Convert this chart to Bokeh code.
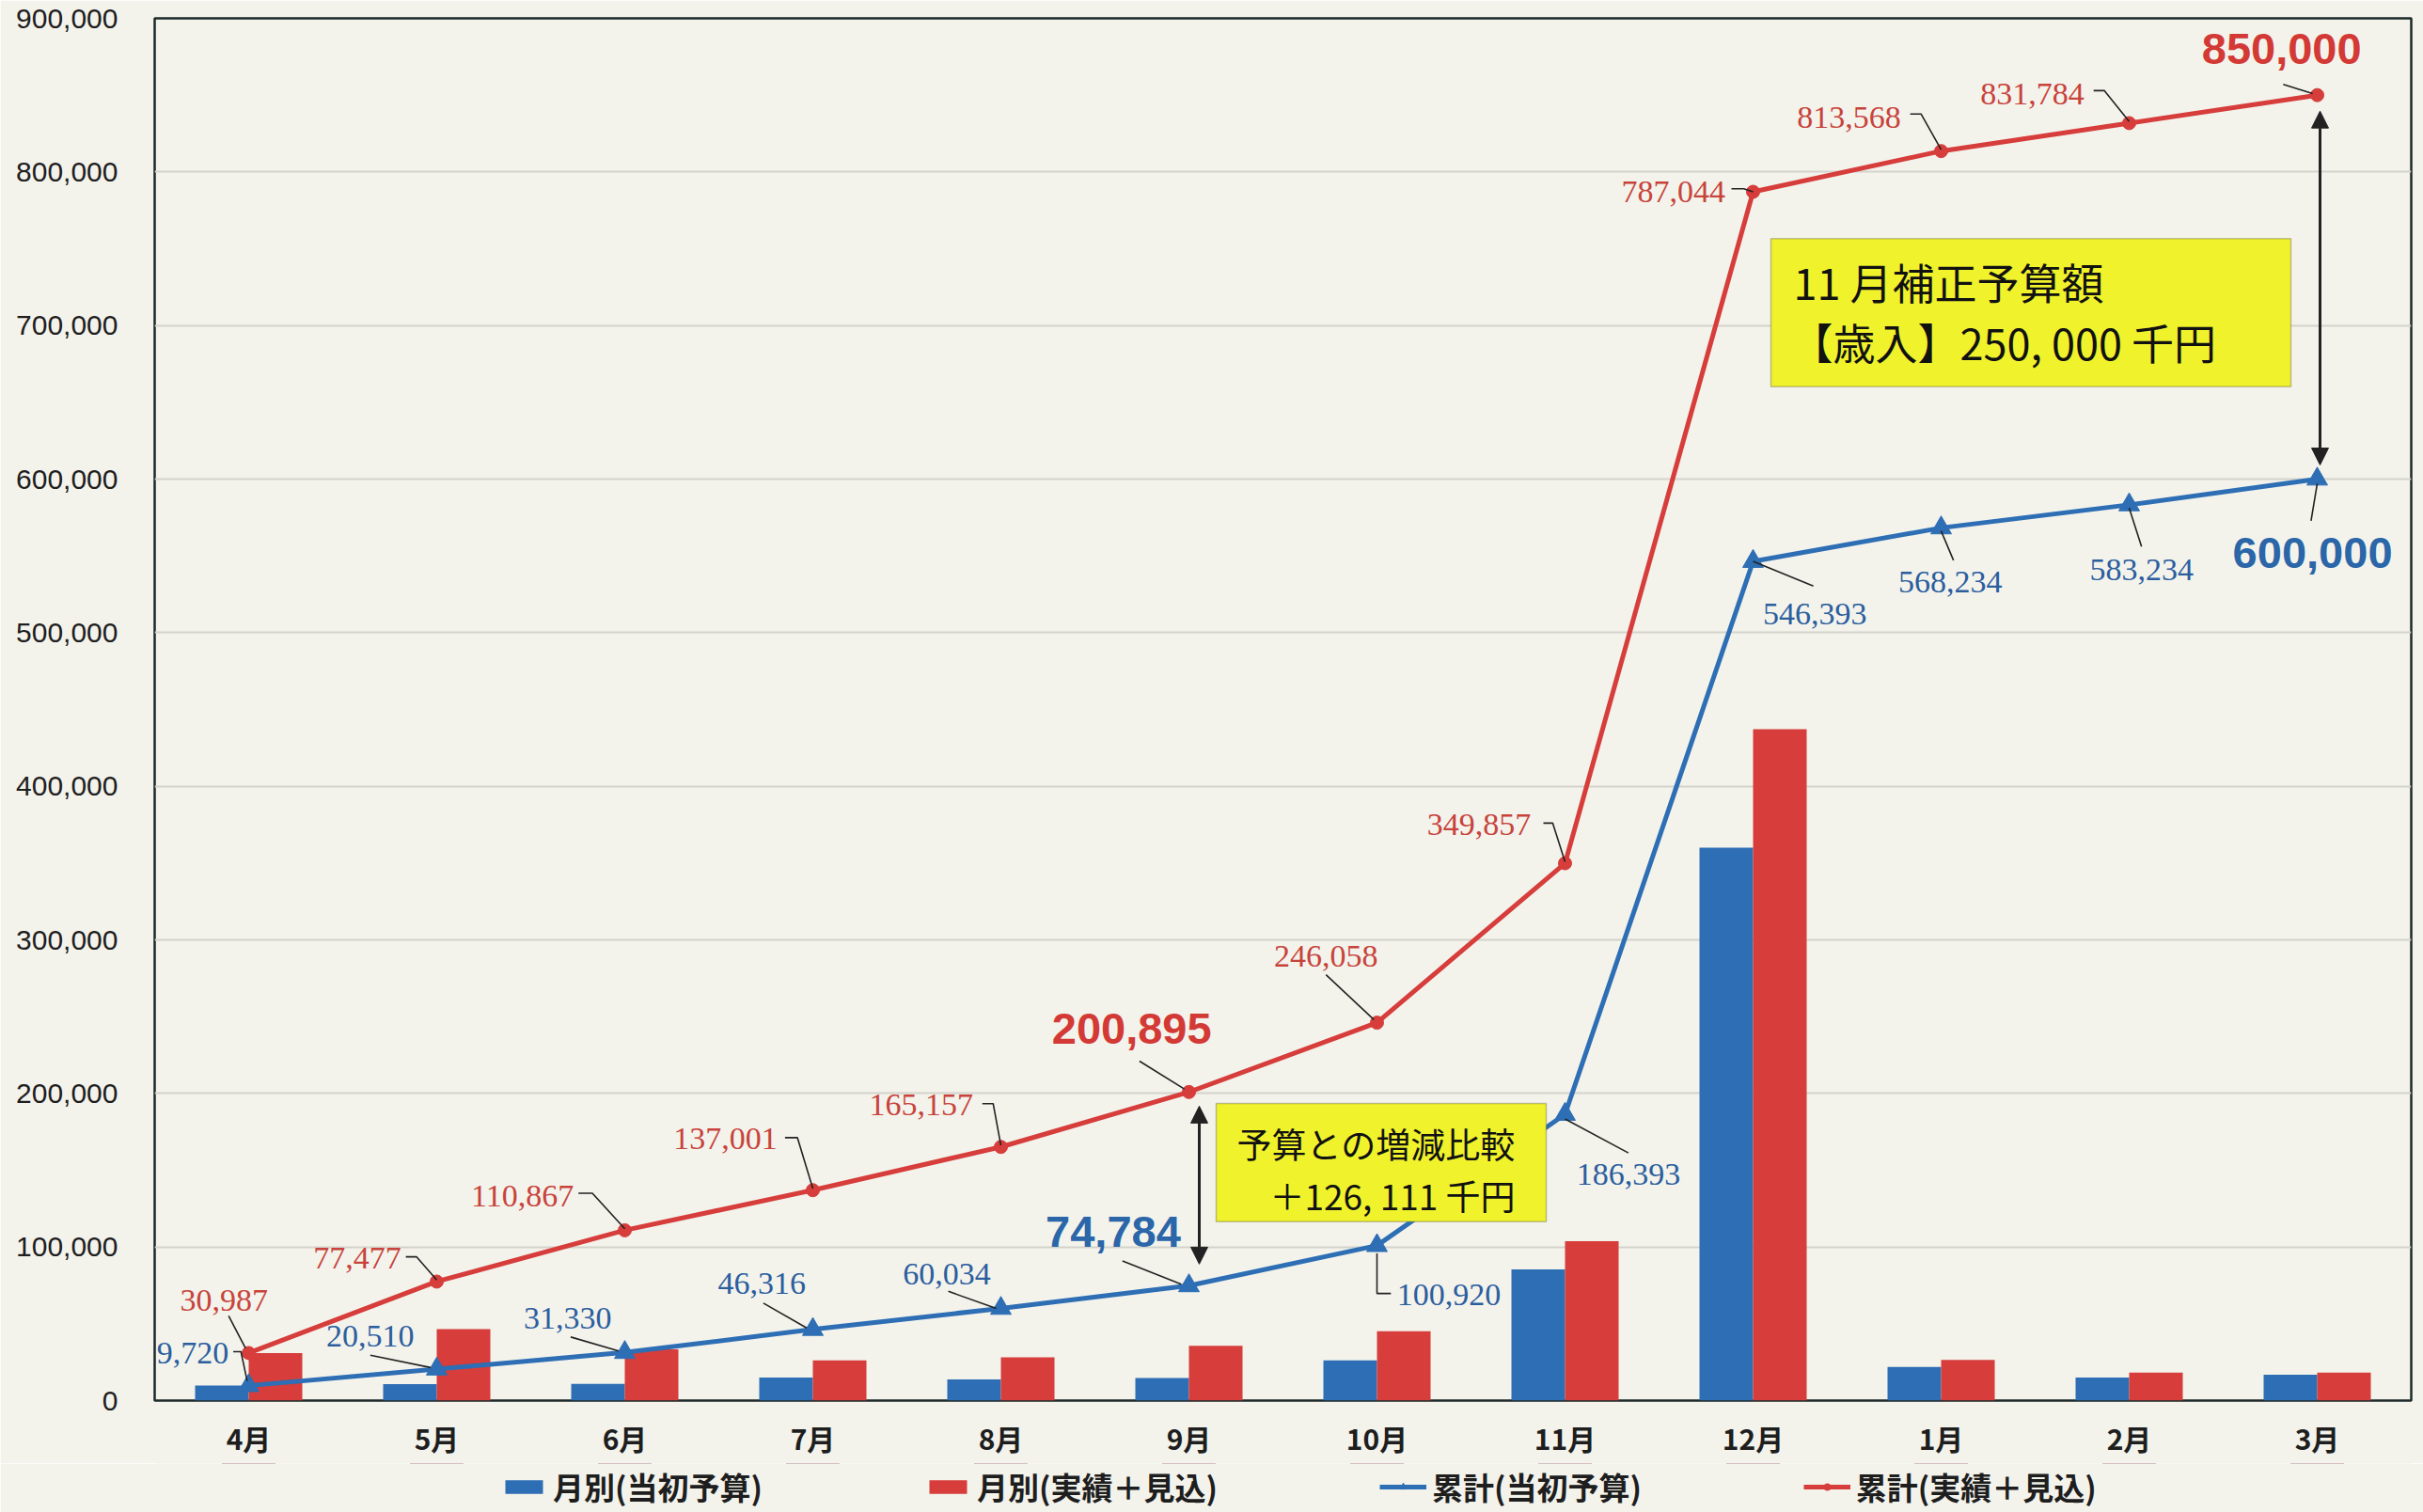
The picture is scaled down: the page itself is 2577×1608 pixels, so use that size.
from bokeh.plotting import figure
from bokeh.layouts import column
from bokeh.models import (Range1d, FixedTicker, NumeralTickFormatter, Legend, LegendItem,
                          Label, BoxAnnotation, Arrow, NormalHead)
from bokeh.embed import file_html
from bokeh.resources import INLINE

# ---------------- data ----------------
months = ["4月", "5月", "6月", "7月", "8月", "9月", "10月", "11月", "12月", "1月", "2月", "3月"]
monthly_budget = [9720, 10790, 10820, 14986, 13718, 14750, 26136, 85473, 360000, 21841, 15000, 16766]
monthly_actual = [30987, 46490, 33390, 26134, 28156, 35738, 45163, 103799, 437187, 26524, 18216, 18216]
cum_budget = [9720, 20510, 31330, 46316, 60034, 74784, 100920, 186393, 546393, 568234, 583234, 600000]
cum_actual = [30987, 77477, 110867, 137001, 165157, 200895, 246058, 349857, 787044, 813568, 831784, 850000]
y_ticks = [0, 100000, 200000, 300000, 400000, 500000, 600000, 700000, 800000, 900000]
legend_labels = ["月別(当初予算)", "月別(実績＋見込)", "累計(当初予算)", "累計(実績＋見込)"]
note_revision = ["11 月補正予算額", "【歳入】250, 000 千円"]
note_diff = ["予算との増減比較", "＋126, 111 千円"]

# ---------------- style ----------------
PAPER = "#F3F3EC"
BLUE = "#2E6EB4"
RED = "#D63D3B"
BLUE_TXT = "#2C5E9E"
RED_TXT = "#C8433B"
BIG_BLUE = "#2A66A8"
BIG_RED = "#D33A35"
INK = "#1E1E1E"
YELLOW = "#F0F22C"

TOTAL_W, TOTAL_H = 2577, 1608
FW, FH = 2400, 1470
TOP, BOTTOM, LEFT, RIGHT = 19, 67, 164, 13
YMAX = 900000
PXX = FW / 12.0
PXY = FH / YMAX
K = 2577 / 1568.0  # measurement scale

x_centers = [i + 0.5 for i in range(len(months))]
BW = 0.285

p = figure(frame_width=FW, frame_height=FH, output_backend="svg", toolbar_location=None,
           x_range=Range1d(0, 12), y_range=Range1d(0, YMAX),
           min_border_left=LEFT, min_border_right=RIGHT, min_border_top=TOP,
           min_border_bottom=BOTTOM,
           background_fill_color=PAPER, border_fill_color=PAPER)
p.outline_line_color = "#1E2A2A"
p.outline_line_width = 2.5

# axes
p.xaxis.ticker = FixedTicker(ticks=x_centers)
p.xaxis.major_label_overrides = {c: m for c, m in zip(x_centers, months)}
p.xaxis.major_label_text_font = "Noto Sans CJK JP"
p.xaxis.major_label_text_font_style = "bold"
p.xaxis.major_label_text_font_size = "30px"
p.xaxis.major_label_text_color = INK
p.xaxis.major_label_standoff = 17
p.xaxis.major_tick_out = 0
p.xaxis.major_tick_in = 0
p.xaxis.major_tick_line_color = None
p.xaxis.minor_tick_line_color = None
p.xaxis.axis_line_color = None

p.yaxis.ticker = FixedTicker(ticks=y_ticks)
p.yaxis.formatter = NumeralTickFormatter(format="0,0")
p.yaxis.major_label_text_font = "Liberation Sans"
p.yaxis.major_label_text_font_size = "30px"
p.yaxis.major_label_text_color = INK
p.yaxis.major_label_standoff = 33
p.yaxis.major_tick_line_color = None
p.yaxis.minor_tick_line_color = None
p.yaxis.axis_line_color = None

p.xgrid.visible = False
p.ygrid.ticker = FixedTicker(ticks=y_ticks)
p.ygrid.grid_line_color = "#D3D3CC"
p.ygrid.grid_line_width = 2

# bars
bar_b = p.vbar(x=[c - BW / 2 for c in x_centers], top=monthly_budget, width=BW,
               fill_color=BLUE, line_color=None)
bar_r = p.vbar(x=[c + BW / 2 for c in x_centers], top=monthly_actual, width=BW,
               fill_color=RED, line_color=None)

# lines
line_r = p.line(x_centers, cum_actual, line_color=RED, line_width=5)
line_b = p.line(x_centers, cum_budget, line_color=BLUE, line_width=5)
sc_r = p.scatter(x_centers, cum_actual, marker="circle", size=14, fill_color=RED, line_color=RED)
sc_b = p.scatter(x_centers, cum_budget, marker="triangle", size=22, fill_color=BLUE, line_color=BLUE)

# ---------------- data labels with leader lines ----------------
# (index, label dx, label dy, align, leader points) in measured px, screen-down positive
red_specs = [
    (0, -16, -34, "center", [(-13, -24), (-2, -3)]),
    (1, -23, -15, "right", [(-20, -16), (-13, -16), (0, -1)]),
    (2, -33, -22, "right", [(-30, -24), (-21, -24), (0, -1)]),
    (3, -23, -33, "right", [(-18, -34), (-10, -34), (0, -1)]),
    (4, -18, -27, "right", [(-12, -28), (-5, -28), (0, -1)]),
    (6, -33, -43, "center", [(-33, -31), (-2, -2)]),
    (7, -22, -25, "right", [(-14, -26), (-8, -26), (0, -1)]),
    (8, -18, 0, "right", [(-14, -2), (-6, -2), (0, 0)]),
    (9, -26, -22, "right", [(-20, -24), (-13, -24), (0, -1)]),
    (10, -29, -19, "right", [(-23, -21), (-16, -21), (0, -1)]),
]
red_big = [
    (5, -37, -41, "center", [(-32, -20), (-3, -2)]),
    (11, -23, -30, "center", [(-22, -7), (-3, -1)]),
]
blue_specs = [
    (0, -13, -21, "right", [(-10, -22), (-5, -22), (-1, -3)]),
    (1, -43, -21, "center", [(-43, -9), (-4, -1)]),
    (2, -37, -22, "center", [(-35, -10), (-4, -1)]),
    (3, -33, -30, "center", [(-32, -17), (-4, -1)]),
    (4, -35, -22, "center", [(-34, -11), (-3, 0)]),
    (6, 13, 32, "left", [(0, 5), (0, 31), (9, 31)]),
    (7, 41, 39, "center", [(0, 3), (41, 25)]),
    (8, 40, 34, "center", [(0, 0), (39, 16)]),
    (9, 6, 35, "center", [(0, 2), (8, 21)]),
    (10, 8, 42, "center", [(0, 2), (8, 27)]),
]
blue_big = [
    (5, -49, -35, "center", [(-43, -16), (-5, -1)]),
    (11, -3, 48, "center", [(0, 3), (-4, 27)]),
]

lx, ly = [], []


def add_labels(specs, values, color, font, size, style):
    for idx, dx, dy, align, pts in specs:
        c, v = x_centers[idx], values[idx]
        lx.append([c + a * K / PXX for a, b in pts])
        ly.append([v - b * K / PXY for a, b in pts])
        p.add_layout(Label(x=c, y=v, x_offset=dx * K, y_offset=-dy * K, text=f"{v:,}",
                           text_align=align, text_baseline="middle", text_color=color,
                           text_font=font, text_font_size=size, text_font_style=style))


add_labels(red_specs, cum_actual, RED_TXT, "Liberation Serif", "34px", "normal")
add_labels(blue_specs, cum_budget, BLUE_TXT, "Liberation Serif", "34px", "normal")
add_labels(red_big, cum_actual, BIG_RED, "Liberation Sans", "47px", "bold")
add_labels(blue_big, cum_budget, BIG_BLUE, "Liberation Sans", "47px", "bold")
p.multi_line(lx, ly, line_color="#222222", line_width=1.6)

# ---------------- difference arrows ----------------
for idx, dxp, top_px, bot_px in [(5, 11, 15, 23), (11, 3, 17, 15)]:
    ax = x_centers[idx] + dxp / PXX
    p.add_layout(Arrow(x_start=ax, y_start=cum_actual[idx] - top_px / PXY,
                       x_end=ax, y_end=cum_budget[idx] + bot_px / PXY,
                       line_color="#222222", line_width=3,
                       start=NormalHead(size=18, fill_color="#222222", line_color="#222222"),
                       end=NormalHead(size=18, fill_color="#222222", line_color="#222222")))

# ---------------- yellow notes ----------------
p.add_layout(BoxAnnotation(left=8.595, right=11.36, top=756600, bottom=660200,
                           fill_color=YELLOW, fill_alpha=1, line_color="#3A3A3A", line_width=1.5))
p.add_layout(Label(x=8.715, y=728500, text=note_revision[0], text_align="left",
                   text_baseline="middle", text_font="Noto Sans CJK JP",
                   text_font_size="45px", text_color="#111111"))
p.add_layout(Label(x=8.70, y=689500, text=note_revision[1], text_align="left",
                   text_baseline="middle", text_font="Noto Sans CJK JP",
                   text_font_size="45px", text_color="#111111"))

p.add_layout(BoxAnnotation(left=5.645, right=7.40, top=193400, bottom=116500,
                           fill_color=YELLOW, fill_alpha=1, line_color="#3A3A3A", line_width=1.5))
p.add_layout(Label(x=5.755, y=167200, text=note_diff[0], text_align="left",
                   text_baseline="middle", text_font="Noto Sans CJK JP",
                   text_font_size="37px", text_color="#111111"))
p.add_layout(Label(x=5.93, y=133600, text=note_diff[1], text_align="left",
                   text_baseline="middle", text_font="Noto Sans CJK JP",
                   text_font_size="37px", text_color="#111111"))

# ---------------- legend strip (separate small figure) ----------------
LEG_H = TOTAL_H - (TOP + FH + BOTTOM)
LY0, LY1 = -2000000, -1000000
lg = figure(width=TOTAL_W, height=LEG_H, output_backend="svg", toolbar_location=None,
            x_range=Range1d(0, 12), y_range=Range1d(LY0, LY1),
            x_axis_location=None, y_axis_location=None, min_border=0,
            background_fill_color=PAPER, border_fill_color=PAPER)
lg.outline_line_color = None
lg.grid.visible = False
# legend swatches reuse the same series (they lie above this strip's visible y range)
g1 = lg.vbar(x=x_centers, top=monthly_budget, width=BW, fill_color=BLUE, line_color=None)
g2 = lg.vbar(x=x_centers, top=monthly_actual, width=BW, fill_color=RED, line_color=None)
g3 = lg.line(x_centers, cum_budget, line_color=BLUE, line_width=5)
g3m = lg.scatter(x_centers, cum_budget, marker="triangle", size=22, fill_color=BLUE, line_color=BLUE)
g4 = lg.line(x_centers, cum_actual, line_color=RED, line_width=5)
g4m = lg.scatter(x_centers, cum_actual, marker="circle", size=14, fill_color=RED, line_color=RED)
# paper-coloured cover so nothing of those renderers bleeds into the strip
lg.add_layout(BoxAnnotation(left=0, right=12, bottom=LY0, top=LY1,
                            fill_color=PAPER, fill_alpha=1, line_color=None))

legend = Legend(items=[
    LegendItem(label=legend_labels[0], renderers=[g1]),
    LegendItem(label=legend_labels[1], renderers=[g2]),
    LegendItem(label=legend_labels[2], renderers=[g3, g3m]),
    LegendItem(label=legend_labels[3], renderers=[g4, g4m]),
], orientation="horizontal", location=(368, 3), spacing=172, glyph_width=50, glyph_height=18,
    label_standoff=6, label_text_font="Noto Sans CJK JP", label_text_font_style="bold",
    label_text_font_size="33px", label_text_color=INK, background_fill_alpha=0,
    border_line_color=None, margin=0, padding=0)
lg.add_layout(legend)

open("out.html", "w").write(file_html(column(p, lg, spacing=0), INLINE))
